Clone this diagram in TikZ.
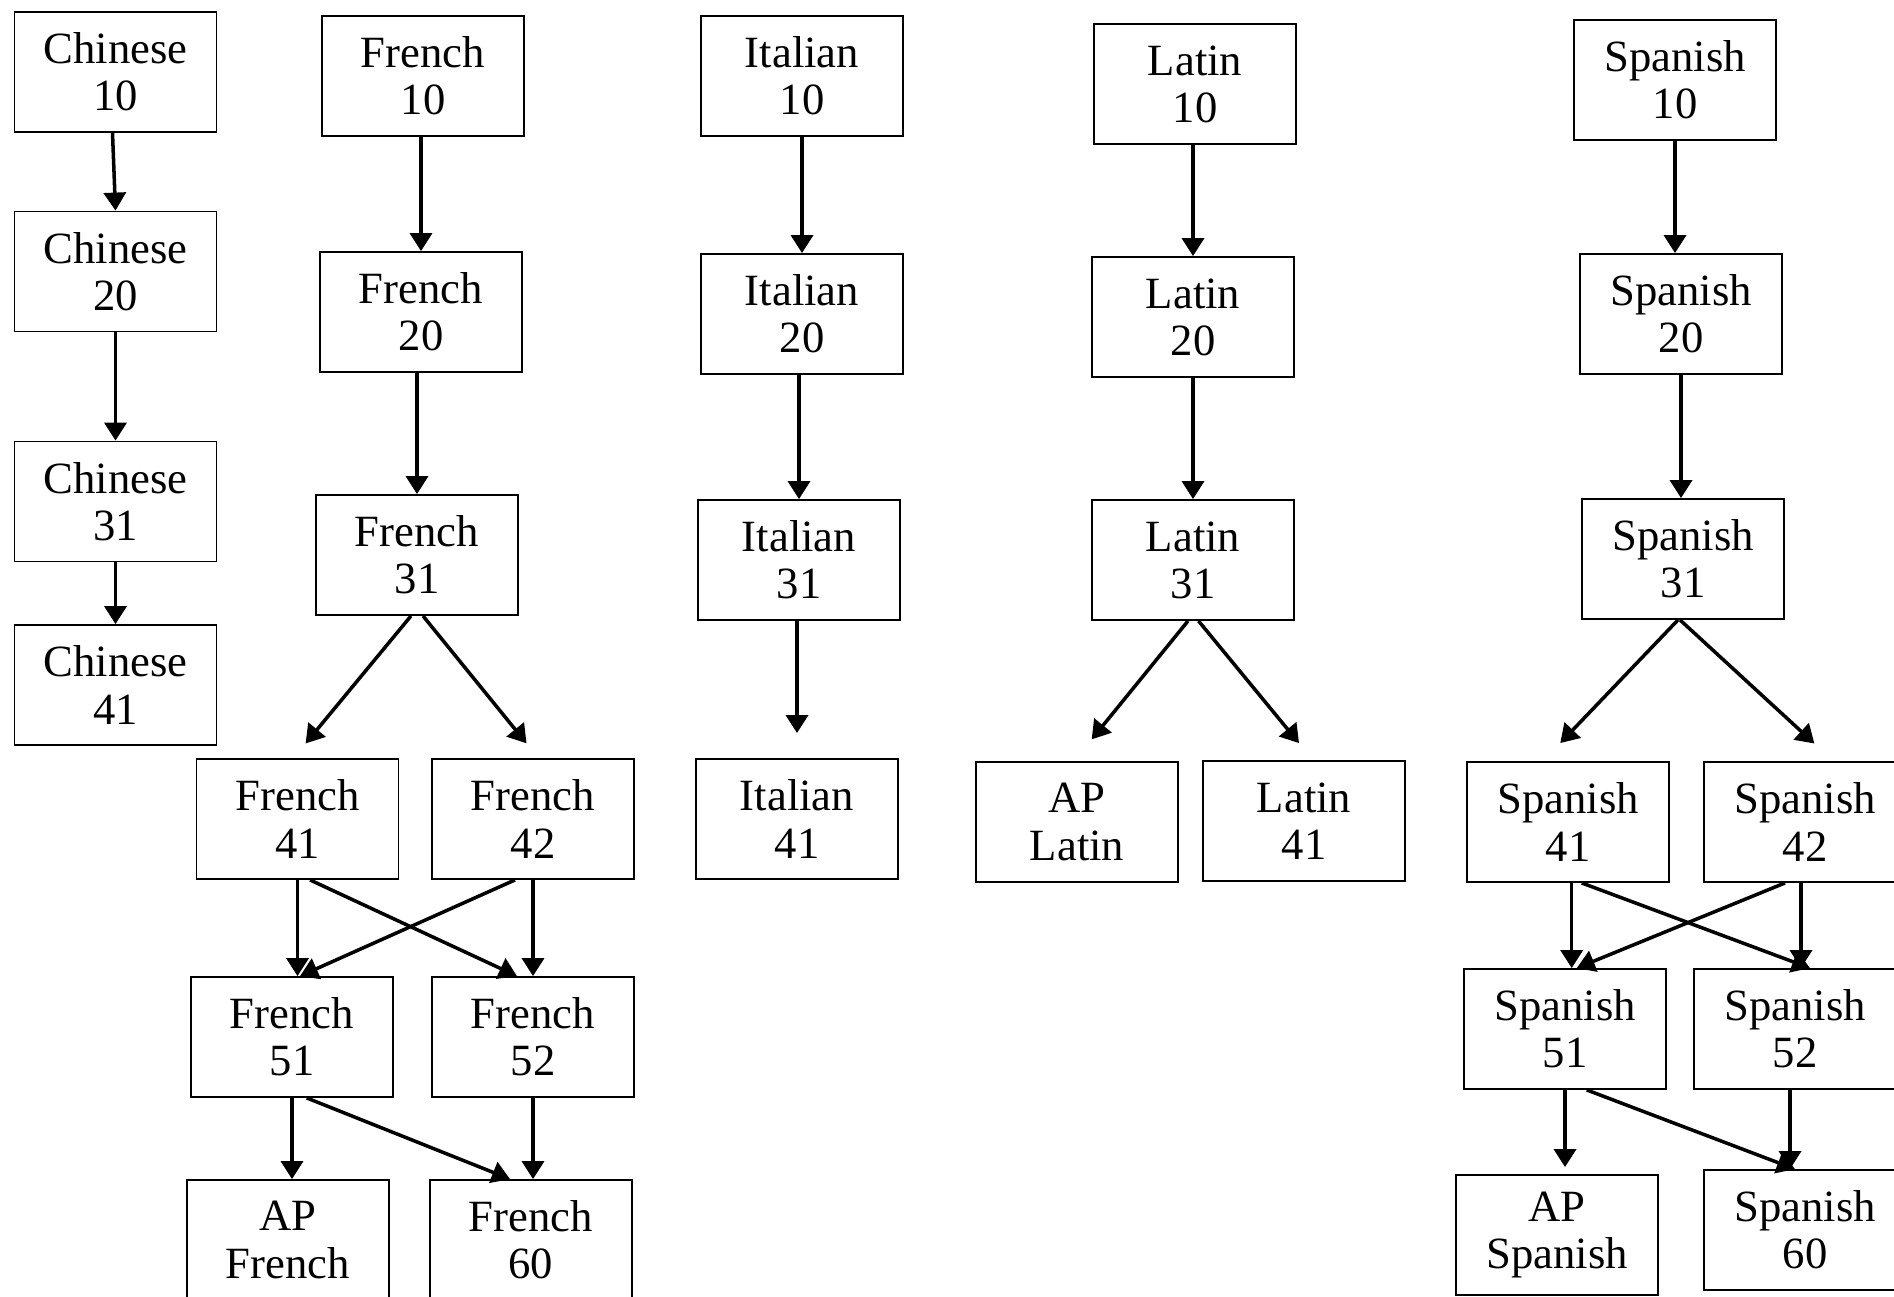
\documentclass[tikz,border=0pt]{standalone}
\usepackage{fontspec}
\setmainfont{Liberation Serif}
\usetikzlibrary{arrows.meta}
\tikzset{
  course/.style={draw,line width=0.5pt,minimum width=2.02cm,minimum height=1.2cm,inner sep=0pt,align=center,font=\fontsize{12.7}{13.4}\selectfont},
  arr/.style={-{Triangle[length=0.18cm,width=0.22cm]},line width=1pt}
}
\begin{document}
\begin{tikzpicture}[x=0.01cm,y=-0.01cm]
\useasboundingbox (0,0) rectangle (1894,1296);
\clip (0,0) rectangle (1894,1296);
\node[course] (ch10) at (115.5,71.7) {Chinese\\10};
\node[course] (ch20) at (115.5,271.5) {Chinese\\20};
\node[course] (ch31) at (115.5,501.5) {Chinese\\31};
\node[course] (ch41) at (115.5,685) {Chinese\\41};
\node[course] (fr10) at (423,76) {French\\10};
\node[course] (fr20) at (421,312) {French\\20};
\node[course] (fr31) at (417,555) {French\\31};
\node[course] (fr41) at (297.5,819) {French\\41};
\node[course] (fr42) at (533,819) {French\\42};
\node[course] (fr51) at (292,1037) {French\\51};
\node[course] (fr52) at (533,1037) {French\\52};
\node[course] (apfr) at (288,1240) {AP\\French};
\node[course] (fr60) at (530.7,1240) {French\\60};
\node[course] (it10) at (802,76) {Italian\\10};
\node[course] (it20) at (802,314) {Italian\\20};
\node[course] (it31) at (799,560) {Italian\\31};
\node[course] (it41) at (797,819) {Italian\\41};
\node[course] (la10) at (1195,84) {Latin\\10};
\node[course] (la20) at (1193,317) {Latin\\20};
\node[course] (la31) at (1193,560) {Latin\\31};
\node[course] (apla) at (1077,822) {AP\\Latin};
\node[course] (la41) at (1304,821) {Latin\\41};
\node[course] (sp10) at (1675,80) {Spanish\\10};
\node[course] (sp20) at (1681,314) {Spanish\\20};
\node[course] (sp31) at (1683,559) {Spanish\\31};
\node[course] (sp41) at (1568,822) {Spanish\\41};
\node[course] (sp42) at (1805,822) {Spanish\\42};
\node[course] (sp51) at (1565,1029) {Spanish\\51};
\node[course] (sp52) at (1795,1029) {Spanish\\52};
\node[course] (apsp) at (1557,1235) {AP\\Spanish};
\node[course] (sp60) at (1805,1230) {Spanish\\60};
\draw[arr] ([xshift=-0.03cm]ch10.south) -- (ch20.north);
\draw[arr] (ch20.south) -- (ch31.north);
\draw[arr] (ch31.south) -- (ch41.north);
\draw[arr] (fr20.north |- fr10.south) -- (fr20.north);
\draw[arr] (fr31.north |- fr20.south) -- (fr31.north);
\draw[arr,shorten >=0.19cm] ([xshift=-0.06cm]fr31.south) -- ([xshift=-0.04cm]fr41.north);
\draw[arr,shorten >=0.19cm] ([xshift=0.06cm]fr31.south) -- ([xshift=0.055cm]fr42.north);
\draw[arr] (fr41.south) -- (fr41.south |- fr51.north);
\draw[arr] ([xshift=0.125cm]fr41.south) -- ([xshift=-0.16cm]fr52.north);
\draw[arr] ([xshift=-0.18cm]fr42.south) -- ([xshift=0.08cm]fr51.north);
\draw[arr] (fr42.south) -- (fr42.south |- fr52.north);
\draw[arr] (fr51.south) -- (fr51.south |- apfr.north);
\draw[arr] ([xshift=0.147cm]fr51.south) -- ([xshift=-0.207cm]fr60.north);
\draw[arr] (fr52.south) -- (fr52.south |- fr60.north);
\draw[arr] (it10.south) -- (it20.north);
\draw[arr] (it31.north |- it20.south) -- (it31.north);
\draw[arr,shorten >=0.25cm] (it41.north |- it31.south) -- (it41.north);
\draw[arr] (la20.north |- la10.south) -- (la20.north);
\draw[arr] (la20.south) -- (la31.north);
\draw[arr,shorten >=0.28cm] ([xshift=-0.05cm]la31.south) -- ([xshift=-0.03cm]apla.north);
\draw[arr,shorten >=0.22cm] ([xshift=0.055cm]la31.south) -- ([xshift=0.09cm]la41.north);
\draw[arr] (sp10.south) -- (sp10.south |- sp20.north);
\draw[arr] (sp20.south) -- (sp20.south |- sp31.north);
\draw[arr,shorten >=0.25cm] ([xshift=-0.05cm]sp31.south) -- ([xshift=-0.25cm]sp41.north);
\draw[arr,shorten >=0.26cm] ([xshift=-0.03cm]sp31.south) -- ([xshift=0.285cm]sp42.north);
\draw[arr] ([xshift=0.037cm]sp41.south) -- ([xshift=0.037cm]sp41.south |- sp51.north);
\draw[arr] ([xshift=0.137cm]sp41.south) -- ([xshift=0.15cm]sp52.north);
\draw[arr] ([xshift=-0.2cm]sp42.south) -- ([xshift=0.117cm]sp51.north);
\draw[arr] ([xshift=-0.04cm]sp42.south) -- ([xshift=-0.04cm]sp42.south |- sp52.north);
\draw[arr,shorten >=0.07cm] (sp51.south) -- (sp51.south |- apsp.north);
\draw[arr] ([xshift=0.217cm]sp51.south) -- ([xshift=-0.1cm]sp60.north);
\draw[arr] ([xshift=-0.05cm]sp52.south) -- ([xshift=-0.05cm]sp52.south |- sp60.north);
\end{tikzpicture}
\end{document}
